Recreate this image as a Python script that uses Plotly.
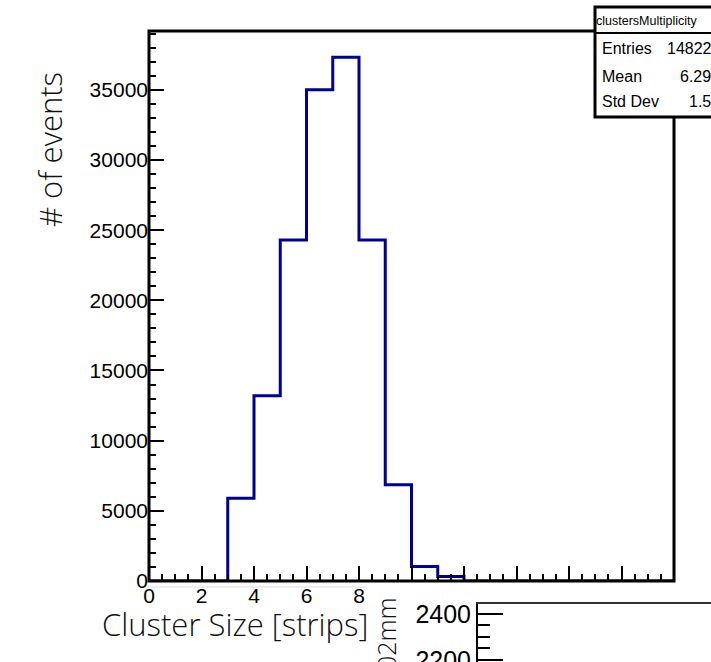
import math
import plotly.graph_objects as go

W, H = 711, 662

# ---- data ----
bin_edges = list(range(0, 21))
counts = [0, 0, 0, 5900, 13200, 24300, 35000, 37325, 24300, 6850,
          1025, 325, 0, 0, 0, 0, 0, 0, 0, 0]
x_tick_vals = [0, 2, 4, 6, 8, 10, 12, 14, 16, 18, 20]
x_tick_text = ["0", "2", "4", "6", "8", "", "", "", "", "", ""]
stat_title = "clustersMultiplicity"
stat_labels = ["Entries", "Mean", "Std Dev"]
pad2_y_ticks = [2200, 2400]
pad2_y_range = [2191.5, 2442.5]

# ---- stats (values filled at integer positions = lower bin edges) ----
N = sum(counts)
mean = sum(e * c for e, c in zip(bin_edges, counts)) / N
var = sum(e * e * c for e, c in zip(bin_edges, counts)) / N - mean ** 2
std = math.sqrt(var)
stat_values = [f"{N}", f"{mean:.4g}", f"{std:.4g}"]

# frame of the main pad, in pixels
FX0, FX1, FY0, FY1 = 149, 674, 31, 581


def px(x):
    return x / W


def py(y):
    return 1 - y / H


fig = go.Figure()
fig.add_trace(go.Scatter(
    x=bin_edges, y=counts + [counts[-1]], mode="lines",
    line=dict(shape="hv", color="#000099", width=3),
    xaxis="x", yaxis="y", showlegend=False, hoverinfo="skip"))
# empty trace so the lower-right pad's axes are drawn
fig.add_trace(go.Scatter(x=[None], y=[None], xaxis="x2", yaxis="y2",
                         mode="lines", showlegend=False, hoverinfo="skip"))

tickfont = dict(family="Liberation Sans, Arial, sans-serif", size=21, color="black")
tickfont2 = dict(family="Liberation Sans, Arial, sans-serif", size=25, color="black")
titlefont = dict(family="Open Sans, sans-serif", size=31, color="#111", weight=300)

fig.update_layout(
    width=W, height=H,
    margin=dict(l=0, r=0, t=0, b=0, autoexpand=False),
    paper_bgcolor="white", plot_bgcolor="white",
    xaxis=dict(domain=[px(FX0), px(FX1)], range=[0, 20], anchor="y", automargin=False,
               showline=False, showgrid=False, zeroline=False,
               tickmode="array", tickvals=x_tick_vals, ticktext=x_tick_text,
               ticks="inside", ticklen=15, tickwidth=2, tickcolor="black",
               minor=dict(dtick=0.5, ticks="inside", ticklen=7, tickwidth=2,
                          tickcolor="black", showgrid=False),
               tickfont=tickfont),
    yaxis=dict(domain=[py(FY1), py(FY0)], range=[0, 1.05 * max(counts)], anchor="x",
               automargin=False,
               showline=False, showgrid=False, zeroline=False,
               dtick=5000, ticks="inside", ticklen=15, tickwidth=2, tickcolor="black",
               minor=dict(dtick=1000, ticks="inside", ticklen=7, tickwidth=2,
                          tickcolor="black", showgrid=False),
               tickfont=tickfont, tickformat="d"),
    xaxis2=dict(domain=[px(478), 1], range=[0, 1], anchor="y2", side="top",
                automargin=False,
                showline=True, linewidth=2, linecolor="#333",
                showticklabels=False, ticks="", showgrid=False, zeroline=False),
    yaxis2=dict(domain=[0, py(604)], range=pad2_y_range,
                anchor="x2", automargin=False, ticklabeloverflow="allow",
                showline=True, linewidth=2, linecolor="black",
                showgrid=False, zeroline=False,
                tickmode="array", tickvals=pad2_y_ticks,
                ticks="inside", ticklen=25, tickwidth=2, tickcolor="black",
                minor=dict(dtick=50, ticks="inside", ticklen=12, tickwidth=2,
                           tickcolor="black", showgrid=False),
                tickfont=tickfont2),
)

shapes = [
    # main frame, centred on the plot-area edges so it hides the zero line
    dict(type="rect", xref="paper", yref="paper",
         x0=px(FX0), x1=px(FX1), y0=py(FY1), y1=py(FY0),
         line=dict(color="black", width=3), fillcolor="rgba(0,0,0,0)", layer="above"),
    # stats box
    dict(type="rect", xref="paper", yref="paper",
         x0=px(595), x1=px(740), y0=py(117), y1=py(7),
         line=dict(color="black", width=3), fillcolor="white", layer="above"),
    dict(type="line", xref="paper", yref="paper",
         x0=px(595), x1=px(740), y0=py(33), y1=py(33),
         line=dict(color="black", width=2), layer="above"),
    # faint pad edge
    dict(type="line", xref="paper", yref="paper",
         x0=px(147), x1=px(367), y0=py(587), y1=py(587),
         line=dict(color="#dddddd", width=1), layer="below"),
]
fig.update_layout(shapes=shapes)

sfont = dict(family="Liberation Sans, Arial, sans-serif", size=16, color="black")
ann = [
    dict(text=stat_title, x=px(594), y=py(21), xanchor="left", yanchor="middle",
         font=dict(family="Liberation Sans, Arial, sans-serif", size=12.5, color="black")),
]
rows_y = [49, 76, 101]
for lab, val, yy in zip(stat_labels, stat_values, rows_y):
    ann.append(dict(text=lab, x=px(600), y=py(yy), xanchor="left", yanchor="middle", font=sfont))
    ann.append(dict(text=val, x=px(722), y=py(yy), xanchor="right", yanchor="middle", font=sfont))

ann.append(dict(text="# of events", x=px(50), y=py(150), xanchor="center", yanchor="middle",
                textangle=-90, font=titlefont))
ann.append(dict(text="Cluster Size [strips]", x=px(100), y=py(624), xanchor="left",
                yanchor="middle", font=titlefont))
ann.append(dict(text="02mm", x=px(386), y=py(633), xanchor="center", yanchor="middle",
                textangle=-90, font=dict(family="Open Sans, sans-serif", size=25,
                                         color="#111", weight=300)))
for a in ann:
    a.update(xref="paper", yref="paper", showarrow=False)
fig.update_layout(annotations=ann)

fig.write_html("out.html")
